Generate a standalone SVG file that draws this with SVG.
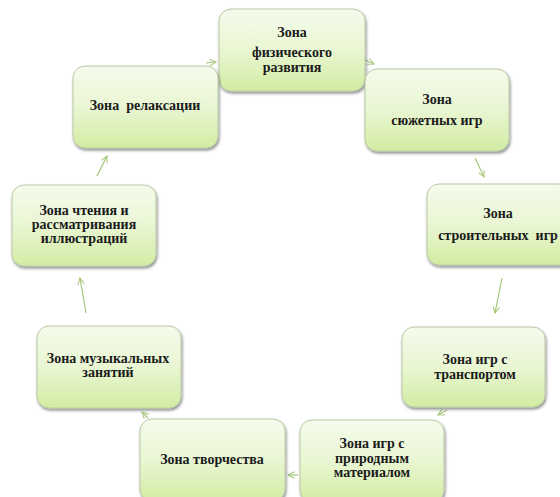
<svg xmlns="http://www.w3.org/2000/svg" width="560" height="497" viewBox="0 0 560 497">
<defs>
<linearGradient id="g" x1="0" y1="0" x2="0" y2="1">
<stop offset="0" stop-color="#f5fbec"/>
<stop offset="0.5" stop-color="#e9f6d3"/>
<stop offset="1" stop-color="#d2eca2"/>
</linearGradient>
<filter id="sh" x="-10%" y="-10%" width="125%" height="130%">
<feGaussianBlur in="SourceAlpha" stdDeviation="1.5"/>
<feOffset dx="1" dy="2" result="b"/>
<feComponentTransfer><feFuncA type="linear" slope="0.45"/></feComponentTransfer>
<feMerge><feMergeNode/><feMergeNode in="SourceGraphic"/></feMerge>
</filter>
<marker id="ah" viewBox="0 0 10 10" refX="9" refY="5" markerWidth="8" markerHeight="8" orient="auto" markerUnits="userSpaceOnUse">
<path d="M1,1 L9,5 L1,9" fill="none" stroke="#a6c77a" stroke-width="1.3"/>
</marker>
</defs>
<style>
.box{fill:url(#g);stroke:#bac9a6;stroke-width:1;filter:url(#sh)}
.t{font-family:"Liberation Serif","Times New Roman",serif;font-weight:bold;font-size:14px;fill:#1a1a1a;text-anchor:middle}
.c{fill:none;stroke:#a6c77a;stroke-width:1.2;marker-end:url(#ah)}
</style>
<rect width="560" height="497" fill="#ffffff"/>
<g id="connectors">
<line class="c" x1="365" y1="60" x2="374" y2="64"/>
<line class="c" x1="475" y1="158" x2="484" y2="177"/>
<line class="c" x1="502" y1="278" x2="495" y2="313"/>
<line class="c" x1="447" y1="410" x2="438" y2="415"/>
<line class="c" x1="298" y1="475" x2="288" y2="475"/>
<line class="c" x1="148" y1="418" x2="142" y2="412"/>
<line class="c" x1="86" y1="313" x2="80" y2="278"/>
<line class="c" x1="97" y1="176" x2="107" y2="156"/>
<line class="c" x1="206" y1="63" x2="216" y2="62"/>
</g>
<g id="n1"><rect class="box" x="219" y="9" width="146" height="82" rx="12"/>
<text class="t" x="292" y="37">Зона</text><text class="t" x="292" y="57">физического</text><text class="t" x="292" y="72">развития</text></g>
<g id="n2"><rect class="box" x="365" y="69" width="144" height="82" rx="12"/>
<text class="t" x="437" y="104">Зона</text><text class="t" x="437" y="125">сюжетных игр</text></g>
<g id="n3"><rect class="box" x="427" y="184" width="144" height="81" rx="12"/>
<text class="t" x="498" y="218">Зона</text><text class="t" x="498" y="240" xml:space="preserve">строительных  игр</text></g>
<g id="n4"><rect class="box" x="402" y="327" width="143" height="80" rx="12"/>
<text class="t" x="475" y="364">Зона игр с</text><text class="t" x="475" y="379">транспортом</text></g>
<g id="n5"><rect class="box" x="300" y="420" width="144" height="82" rx="12"/>
<text class="t" x="372" y="448">Зона игр с</text><text class="t" x="372" y="463">природным</text><text class="t" x="372" y="477">материалом</text></g>
<g id="n6"><rect class="box" x="140" y="419" width="145" height="82" rx="12"/>
<text class="t" x="212" y="464">Зона творчества</text></g>
<g id="n7"><rect class="box" x="37" y="326" width="144" height="82" rx="12"/>
<text class="t" x="108" y="363">Зона музыкальных</text><text class="t" x="108" y="377">занятий</text></g>
<g id="n8"><rect class="box" x="12" y="185" width="144" height="81" rx="12"/>
<text class="t" x="84" y="215">Зона чтения и</text><text class="t" x="84" y="229">рассматривания</text><text class="t" x="84" y="243">иллюстраций</text></g>
<g id="n9"><rect class="box" x="73" y="66" width="145" height="82" rx="12"/>
<text class="t" x="145" y="110" xml:space="preserve">Зона  релаксации</text></g>
</svg>
